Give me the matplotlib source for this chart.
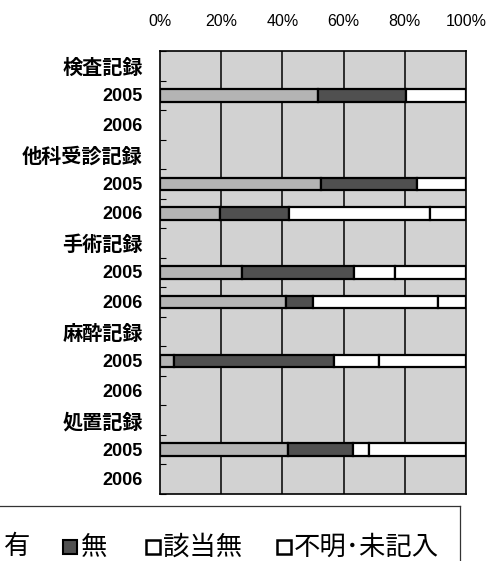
import matplotlib.pyplot as plt
import numpy as np
from matplotlib.lines import Line2D
from matplotlib.patches import Rectangle

plt.rcParams['font.family'] = ['Noto Sans CJK JP', 'DejaVu Sans']

rows = ['検査記録', '2005', '2006',
        '他科受診記録', '2005', '2006',
        '手術記録', '2005', '2006',
        '麻酔記録', '2005', '2006',
        '処置記録', '2005', '2006']
# percentages per row (0 = no bar)
ari = [0, 51.6, 0, 0, 52.5, 19.6, 0, 26.7, 41.2, 0, 4.6, 0, 0, 41.7, 0]
nashi = [0, 28.9, 0, 0, 31.4, 22.7, 0, 36.7, 8.7, 0, 52.4, 0, 0, 21.5, 0]
gaitou = [0, 0, 0, 0, 0, 45.9, 0, 13.5, 41.1, 0, 14.5, 0, 0, 5.2, 0]
fumei = [0, 19.5, 0, 0, 16.1, 11.8, 0, 23.1, 9.0, 0, 28.5, 0, 0, 31.6, 0]
xticks = [0, 20, 40, 60, 80, 100]

series = [(ari, '#b4b4b4'), (nashi, '#505050'), (gaitou, 'white'), (fumei, 'white')]

W, H = 498, 561
fig = plt.figure(figsize=(W / 100, H / 100), dpi=100)
ax = fig.add_axes([160 / W, 1 - 494 / H, 306 / W, 443 / H])
ax.set_facecolor('#d2d2d2')

y = np.arange(len(rows))
left = np.zeros(len(rows))
for vals, col in series:
    vals = np.array(vals, dtype=float)
    m = vals > 0
    ax.barh(y[m], vals[m], left=left[m], height=0.42, color=col,
            edgecolor='black', linewidth=1.6, zorder=3)
    left += vals

ax.set_xlim(0, 100)
ax.set_ylim(len(rows) - 0.5, -0.5)
ax.set_xticks(xticks)
ax.set_xticklabels([f'{t}%' for t in xticks], fontsize=11.5, family='Liberation Sans')
ax.xaxis.tick_top()
ax.tick_params(axis='x', length=0, pad=16)
for t in xticks[1:-1]:
    ax.axvline(t, color='black', lw=1.1, zorder=1)

ax.set_yticks(np.arange(len(rows) + 1) - 0.5)
ax.set_yticklabels([])
ax.tick_params(axis='y', direction='in', length=4, width=0.8)
for i, lab in enumerate(rows):
    if lab.isdigit():
        ax.text(-0.056, i + 0.05, lab, transform=ax.get_yaxis_transform(),
                ha='right', va='center', fontsize=13, fontweight='bold',
                family='Liberation Sans')
    else:
        ax.text(-0.056, i + 0.05, lab, transform=ax.get_yaxis_transform(),
                ha='right', va='center', fontsize=14.5, fontweight='bold')
for s in ax.spines.values():
    s.set_linewidth(1.2)

# legend frame and entries
fig.add_artist(Line2D([0, 460 / W], [1 - 506 / H] * 2, color='#333333', lw=0.9))
fig.add_artist(Line2D([460 / W] * 2, [1 - 506 / H, 0], color='#333333', lw=0.9))
ly = 1 - 547 / H
sq = 14
fig.text(4 / W, ly, '有', fontsize=19, va='center')
fig.add_artist(Rectangle((63 / W, ly - sq / 2 / H), sq / W, sq / H,
                         facecolor='#505050', edgecolor='black', lw=1.5))
fig.text(81 / W, ly, '無', fontsize=19, va='center')
fig.add_artist(Rectangle((146 / W, ly - sq / 2 / H), sq / W, sq / H,
                         facecolor='white', edgecolor='black', lw=1.8))
fig.text(163 / W, ly, '該当無', fontsize=19, va='center')
fig.add_artist(Rectangle((277 / W, ly - sq / 2 / H), sq / W, sq / H,
                         facecolor='white', edgecolor='black', lw=1.8))
fig.text(294 / W, ly, '不明･未記入', fontsize=19, va='center')

fig.savefig('out.png', dpi=100)
